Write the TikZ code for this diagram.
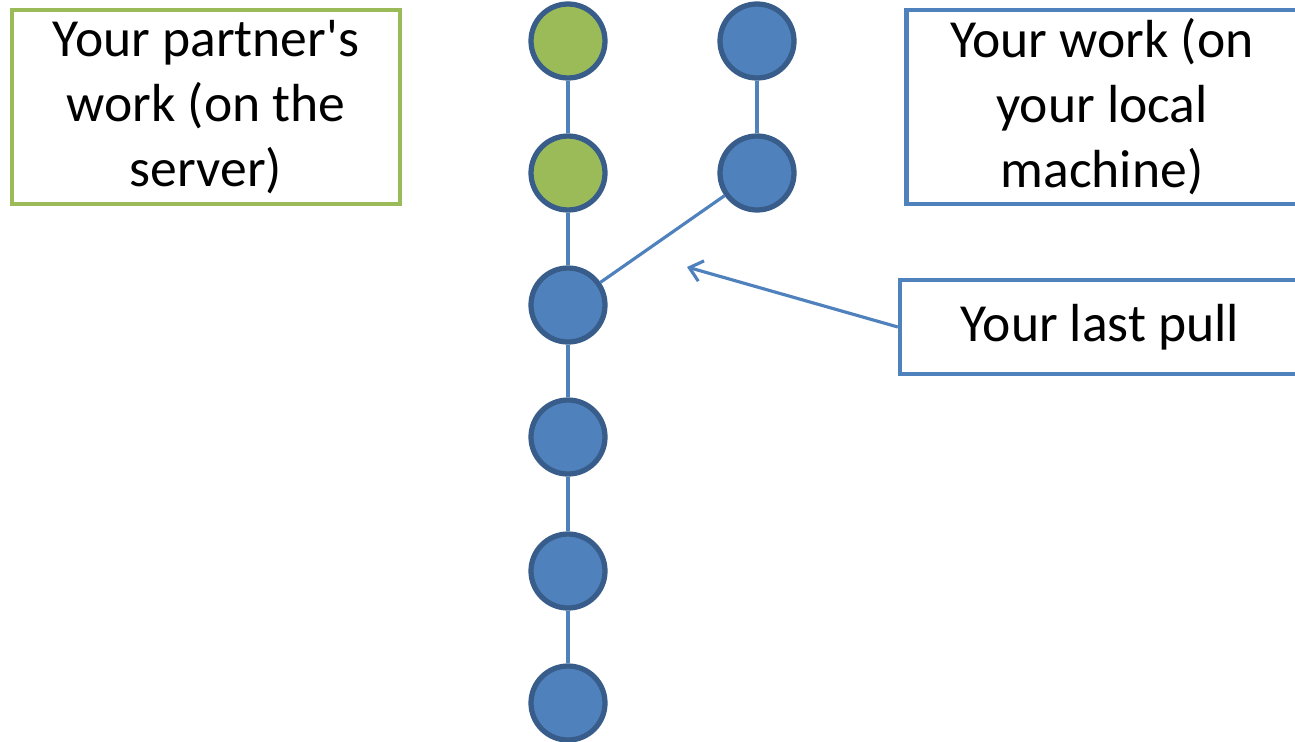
\documentclass[tikz,border=0pt]{standalone}
\usepackage{fontspec}
\setmainfont{Carlito}
\usetikzlibrary{positioning}
\usetikzlibrary{arrows.meta}

\definecolor{accblue}{HTML}{4F81BD}
\definecolor{accgreen}{HTML}{9BBB59}
\definecolor{ringblue}{HTML}{385D8A}

\begin{document}
\begin{tikzpicture}[x=0.02cm,y=-0.02cm,
  commit/.style={circle,draw=ringblue,line width=3pt,fill=accblue,minimum size=1.48cm,inner sep=0pt},
  theirs/.style={commit,fill=accgreen},
  label box/.style={draw=#1,line width=2.5pt,fill=white,align=center,inner sep=0pt,
    font=\fontsize{30.5}{37}\selectfont},
  link/.style={draw=accblue,line width=1.8pt}]
\useasboundingbox (0,0) rectangle (1295,741);

\node[label box=accgreen,minimum width=7.76cm,minimum height=3.88cm](partner) at (206,107){Your partner\textquotesingle s\\work (on the\\server)};
\node[label box=accblue,minimum width=7.82cm,minimum height=3.88cm](mine) at (1102,107){Your work (on\\your local\\machine)};
\node[label box=accblue,minimum width=8cm,minimum height=1.88cm](pull) at (1100,327){Your last pull};

\node[theirs](s2) at (568,41){};
\node[theirs](s1) at (568,173){};
\node[commit](c4) at (568,305){};
\node[commit](c3) at (568,437){};
\node[commit](c2) at (568,571){};
\node[commit](c1) at (568,703){};
\node[commit](l2) at (757,41){};
\node[commit](l1) at (757,173){};
\coordinate (pulltip) at (687,267);

\path[link]
(s2) edge (s1)
(s1) edge (c4)
(c4) edge (c3)
(c3) edge (c2)
(c2) edge (c1)
(l2) edge (l1)
(l1) edge (c4);
\draw[link,-{Straight Barb[length=7pt,width=12pt]}] (pull.west) -- (pulltip);
\end{tikzpicture}
\end{document}
